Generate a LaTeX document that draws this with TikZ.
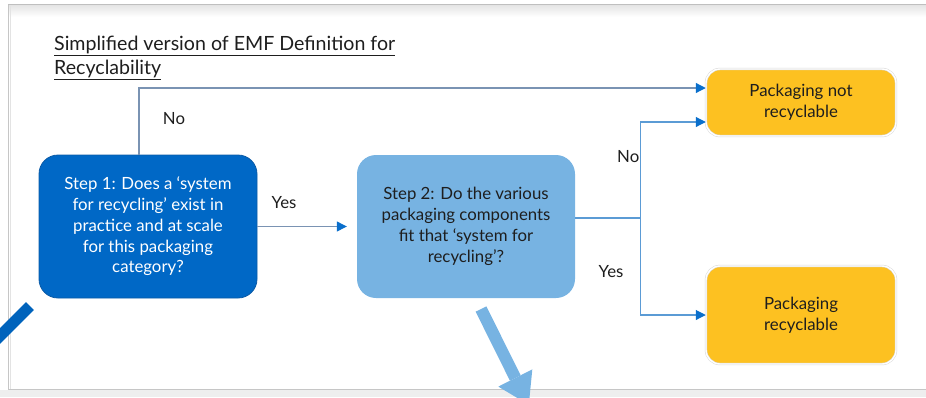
\documentclass[tikz,border=0pt]{standalone}
\usepackage{fontspec}
\setmainfont{Lato}
\usetikzlibrary{arrows.meta,calc}
\definecolor{dblue}{HTML}{0068C6}
\definecolor{dbluebord}{HTML}{0A5AA6}
\definecolor{lblue}{HTML}{77B3E2}
\definecolor{ybox}{HTML}{FDC121}
\definecolor{linegray}{HTML}{7A93B3}
\definecolor{lineblue}{HTML}{5B9BD5}
\definecolor{tipblue}{HTML}{0A6FCC}
\definecolor{txt}{HTML}{1E1E1E}
\tikzset{
  stepone/.style={rectangle, rounded corners=19pt, fill=dblue, draw=dbluebord, line width=0.8pt,
    minimum width=218pt, minimum height=143pt, text=white, align=center, inner sep=0pt},
  steptwo/.style={rectangle, rounded corners=19pt, fill=lblue,
    minimum width=218pt, minimum height=143pt, text=txt, align=center, inner sep=0pt},
  result/.style={rectangle, rounded corners=14pt, fill=ybox, draw=gray!30, double=white,
    double distance=1.4pt, line width=0.5pt,
    minimum width=190pt, text=txt, align=center, inner sep=0pt},
  connA/.style={draw=linegray, line width=1.2pt, -{Triangle[length=10pt,width=10pt,fill=tipblue,color=tipblue]}},
  connB/.style={draw=lineblue, line width=1.1pt, -{Triangle[length=10pt,width=10pt,fill=tipblue,color=tipblue]}},
  lbl/.style={text=txt, inner sep=0pt},
}
\begin{document}
\begin{tikzpicture}[x=1pt,y=-1pt, font=\fontsize{16.8}{20.8}\selectfont]
\useasboundingbox (0,0) rectangle (926,397);
\clip (0,0) rectangle (926,397);
% frame
\fill[gray!13] (0,389.5) rectangle (926,397);
\shade[top color=gray!20,bottom color=white] (9,5.5) rectangle (926,17);
\draw[gray!50, line width=1.5pt] (8,4.5) -- (926,4.5);
\draw[gray!45, line width=1pt] (8,4.5) -- (8,389.5) -- (926,389.5);
\draw[gray!22, line width=0.8pt] (10.8,6) -- (10.8,388.5);
% title
\node[anchor=north west, align=left, inner sep=0pt, text=txt, font=\fontsize{19.6}{24.5}\selectfont] (title) at (54,35.5)
  {\underline{Simplified version of EMF Definition for}\\\underline{Recyclability}};
% nodes
\node[stepone] (s1) at (148,226.5) {Step 1: Does a ‘system\\for recycling’ exist in\\practice and at scale\\for this packaging\\category?};
\node[steptwo] (s2) at (466,226.5) {Step 2: Do the various\\packaging components\\fit that ‘system for\\recycling’?};
\node[result, minimum height=67pt] (nr) at (801,102.5) {Packaging not\\recyclable};
\node[result, minimum height=98pt] (r) at (801,315) {Packaging\\recyclable};
% connectors
\coordinate (s1top) at ($(s1.north west)!0.459!(s1.north east)$);
\draw[connA] (s1top) |- ([yshift=14.5pt]nr.west);
\draw[connA, shorten >=10pt] (s1.east) -- (s2.west);
\coordinate (j) at ($([yshift=8.5pt]s2.east)+(65,0)$);
\draw[draw=lineblue, line width=1.1pt] ([yshift=8.5pt]s2.east) -- (j);
\draw[connB] (j) |- ([yshift=-19.5pt]nr.west);
\draw[connB] (j) |- (r.west);
% labels
\node[lbl] (no1) at (174,119) {No};
\node[lbl] (yes1) at (284,203) {Yes};
\node[lbl, anchor=east] (no2) at (639.5,157) {No};
\node[lbl] (yes2) at (611,272) {Yes};
% big arrows
\coordinate (da) at (30,306);
\coordinate (db) at (-25,361);
\draw[dblue!95!black, line width=11pt] (da) -- (db);
\coordinate (la) at (481,309);
\coordinate (lb) at (515.3,378);
\draw[lblue, line width=12pt] (la) -- (lb);
\fill[lblue] (532.3,369.4) -- (528.8,404.8) -- (498.3,386.6) -- cycle;
\end{tikzpicture}
\end{document}
